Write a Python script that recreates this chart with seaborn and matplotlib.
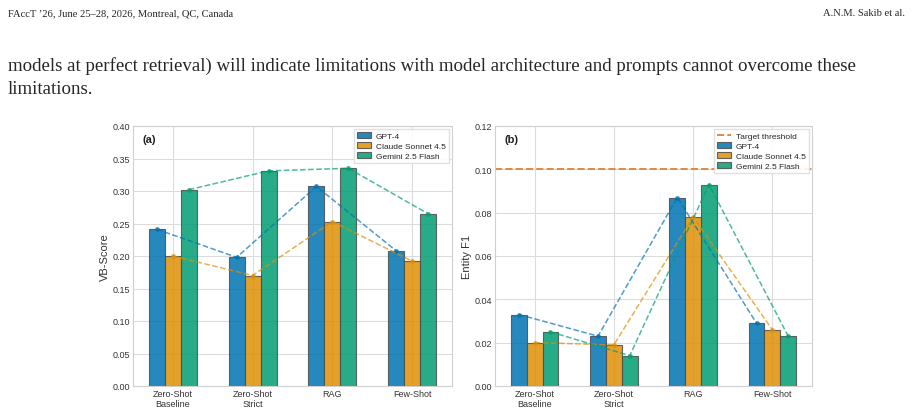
import pandas as pd
import matplotlib.pyplot as plt
import seaborn as sns

# Data
strategies = ["Zero-Shot\nBaseline", "Zero-Shot\nStrict", "RAG", "Few-Shot"]
models = ["GPT-4", "Claude Sonnet 4.5", "Gemini 2.5 Flash"]

vb_gpt4 = [0.241, 0.198, 0.307, 0.208]
vb_claude = [0.200, 0.170, 0.253, 0.192]
vb_gemini = [0.302, 0.331, 0.335, 0.265]

f1_gpt4 = [0.033, 0.023, 0.087, 0.029]
f1_claude = [0.020, 0.019, 0.078, 0.026]
f1_gemini = [0.025, 0.014, 0.093, 0.023]

target_threshold = 0.10

colors = ["#0173b2", "#de8f05", "#029e73"]


def long_df(series):
    rows = []
    for m, vals in zip(models, series):
        for s, v in zip(strategies, vals):
            rows.append({"strategy": s, "model": m, "score": v})
    return pd.DataFrame(rows)


sns.set_theme(style="whitegrid")
plt.rcParams["font.family"] = ["Liberation Sans", "DejaVu Sans"]
plt.rcParams["axes.edgecolor"] = "#d0d0d0"
plt.rcParams["grid.color"] = "#dcdcdc"
plt.rcParams["grid.linewidth"] = 0.8

fig = plt.figure(figsize=(9.13, 4.14), dpi=100)
fig.patch.set_facecolor("white")

# page header and body text around the figure
serif = ["Liberation Serif", "DejaVu Serif"]
fig.text(8 / 913, 1 - 14 / 414, "FAccT \u201926, June 25\u201328, 2026, Montreal, QC, Canada",
         family=serif, fontsize=7.6, va="center", ha="left")
fig.text(905 / 913, 1 - 14 / 414, "A.N.M. Sakib et al.",
         family=serif, fontsize=7.6, va="center", ha="right")
fig.text(8 / 913, 1 - 66 / 414,
         "models at perfect retrieval) will indicate limitations with model architecture and prompts cannot overcome these",
         family=serif, fontsize=13.6, va="center", ha="left")
fig.text(8 / 913, 1 - 89 / 414, "limitations.",
         family=serif, fontsize=13.6, va="center", ha="left")

ax_a = fig.add_axes([133 / 913, 27 / 414, 319 / 913, 260 / 414])
ax_b = fig.add_axes([495 / 913, 27 / 414, 317 / 913, 260 / 414])

panels = [
    (ax_a, [vb_gpt4, vb_claude, vb_gemini], "VB-Score", 0.40, 0.05, "(a)"),
    (ax_b, [f1_gpt4, f1_claude, f1_gemini], "Entity F1", 0.12, 0.02, "(b)"),
]

for ax, series, ylabel, ymax, step, tag in panels:
    df = long_df(series)
    if tag == "(b)":
        ax.axhline(target_threshold, color="#e3873f", ls="--", lw=1.4,
                   label="Target threshold", zorder=1)
    sns.barplot(data=df, x="strategy", y="score", hue="model", palette=colors,
                width=0.6, edgecolor="0.3", linewidth=0.8, alpha=0.85,
                saturation=1, errorbar=None, ax=ax, zorder=2)
    # dashed trend lines across the bar tops
    for k, (vals, c) in enumerate(zip(series, colors)):
        xs = [i + (k - 1) * 0.2 for i in range(len(vals))]
        ax.plot(xs, vals, ls="--", color=c, lw=1.1, alpha=0.7,
                marker="o", markersize=2.5, zorder=3)
    ax.set_xlim(-0.5, 3.5)
    ax.set_ylim(0, ymax)
    ax.set_yticks([round(step * i, 2) for i in range(int(round(ymax / step)) + 1)])
    ax.yaxis.set_major_formatter(plt.FormatStrFormatter("%.2f"))
    ax.grid(True, axis="both")
    ax.set_axisbelow(True)
    ax.set_xlabel("")
    ax.set_ylabel(ylabel, fontsize=8, color="#333333", labelpad=2)
    ax.tick_params(labelsize=6.5, colors="#333333", pad=2, length=0)
    ax.text(0.03, 0.97, tag, transform=ax.transAxes, fontsize=8,
            fontweight="bold", va="top", ha="left", color="#222222")
    ax.legend(loc="upper right", fontsize=6, frameon=True, framealpha=0.9,
              edgecolor="#dddddd", borderpad=0.35, handlelength=1.7,
              handletextpad=0.6, labelspacing=0.25, borderaxespad=0.4,
              fancybox=False)
    for spine in ax.spines.values():
        spine.set_linewidth(0.8)

plt.savefig("out.png", dpi=100, facecolor="white")
